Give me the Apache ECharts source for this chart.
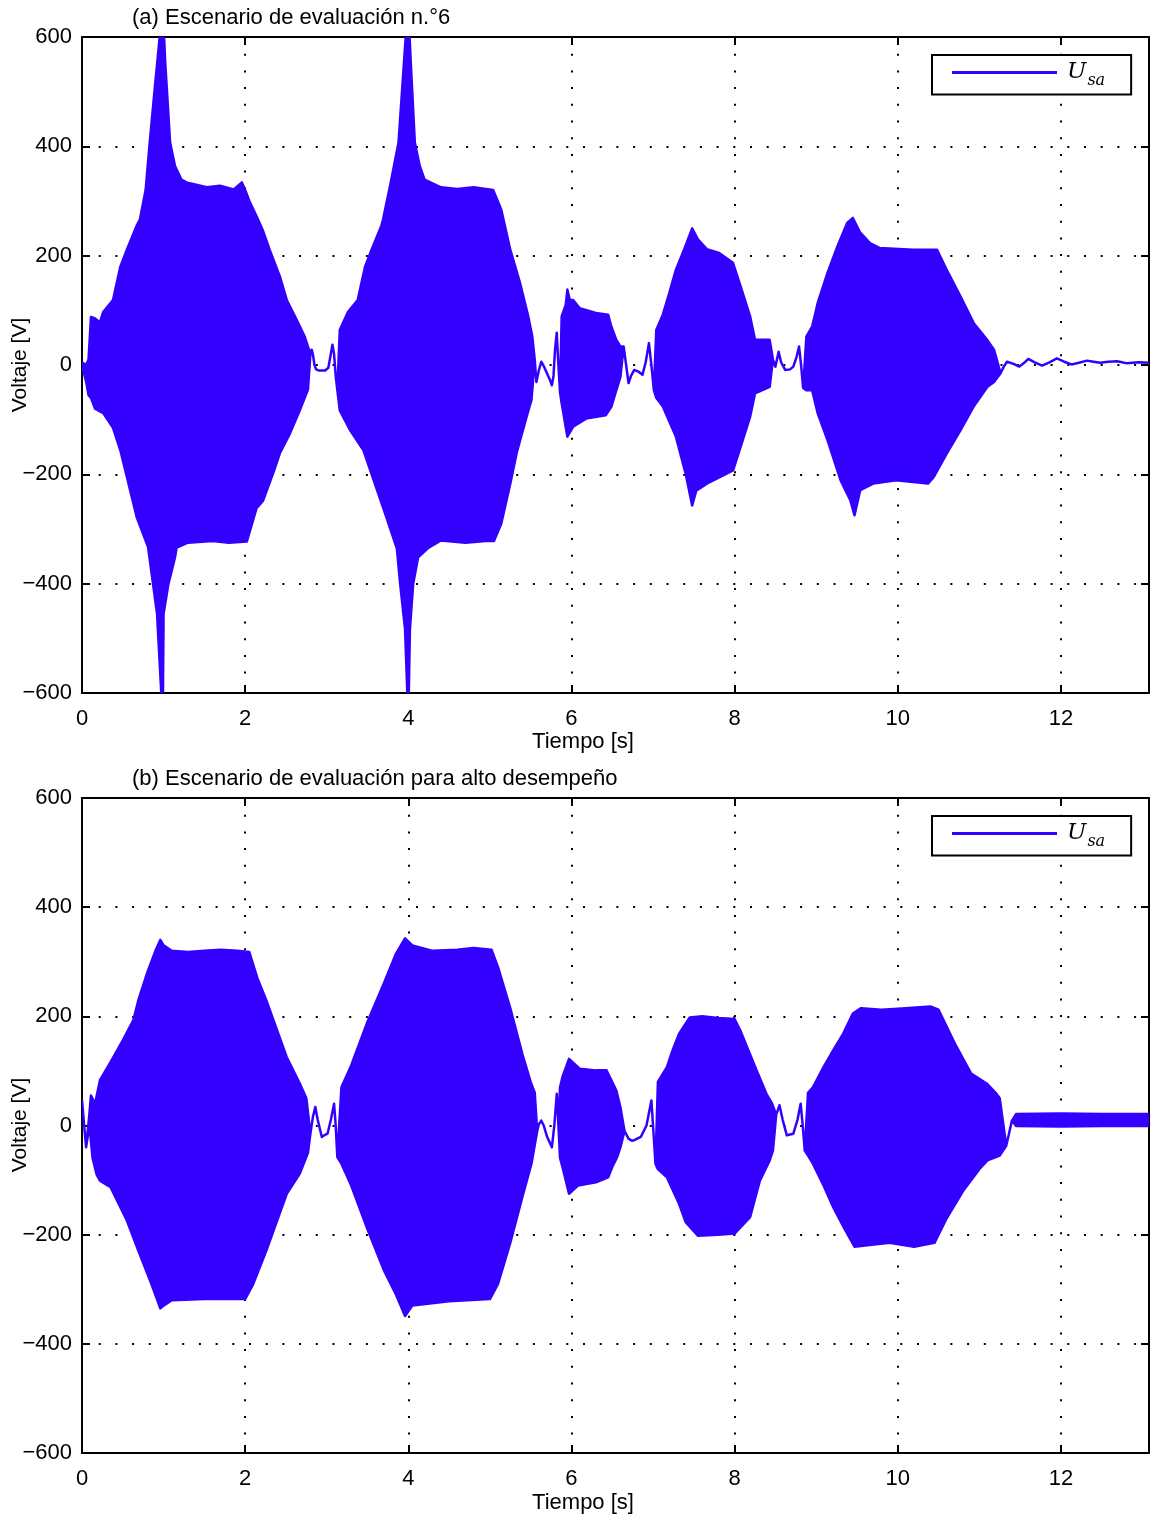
<!DOCTYPE html>
<html>
<head>
<meta charset="utf-8">
<script src="https://cdn.jsdelivr.net/npm/echarts@6/dist/echarts.min.js"></script>
<style>
  html, body { margin: 0; padding: 0; background: #fff; }
  #chart { width: 1151px; height: 1522px; }
</style>
</head>
<body>
<div id="chart"></div>
<script>
// Voltage U_sa over time for two evaluation scenarios.
// The fast oscillation is drawn as its envelope: an upper edge and a lower edge
// ([time s, voltage V] pairs). Where the signal is a single slow wiggle both edges
// follow the same trace, so the band collapses into a line.

const xTicks = [0, 2, 4, 6, 8, 10, 12];
const yTicks = [-600, -400, -200, 0, 200, 400, 600];
const timeMax = 13.08;

// (a) Scenario n.°6
const upperA = [
  [0.00, 5], [0.05, 0], [0.08, 10], [0.11, 88], [0.16, 85], [0.22, 78], [0.26, 97],
  [0.38, 119], [0.47, 180], [0.55, 211], [0.67, 255], [0.71, 266], [0.78, 320],
  [0.83, 407], [0.895, 511], [0.95, 596], [0.977, 650], [1.00, 620], [1.02, 554],
  [1.08, 407], [1.14, 364], [1.22, 339], [1.28, 334], [1.53, 325], [1.69, 328],
  [1.86, 321], [1.96, 334], [2.00, 320], [2.06, 297], [2.14, 272], [2.22, 245],
  [2.30, 211], [2.43, 160], [2.51, 119], [2.63, 83], [2.73, 52],
  [2.80, 20], [2.815, 28], [2.83, 20], [2.85, 0], [2.87, -8], [2.90, -10], [2.98, -10],
  [3.02, -5], [3.05, 20], [3.07, 37], [3.09, 20], [3.11, -20], [3.13, -46],
  [3.16, 64], [3.26, 97], [3.38, 119], [3.47, 180], [3.55, 211], [3.67, 255],
  [3.69, 266], [3.78, 330], [3.88, 407], [3.95, 560], [3.99, 650], [4.01, 620],
  [4.03, 554], [4.08, 407], [4.14, 364], [4.20, 339], [4.40, 325], [4.60, 322],
  [4.80, 325], [4.95, 322], [5.04, 320], [5.14, 284], [5.25, 211], [5.37, 150],
  [5.47, 89], [5.52, 52],
  [5.55, 10], [5.57, -31], [5.60, -10], [5.63, 6], [5.66, -2], [5.69, -12], [5.73, -25],
  [5.76, -37], [5.78, -20], [5.80, 30], [5.82, 59], [5.84, 0], [5.86, -50],
  [5.88, 89], [5.93, 110], [5.95, 138], [5.98, 119], [6.02, 119], [6.10, 104],
  [6.30, 95], [6.45, 92], [6.49, 70], [6.55, 46], [6.60, 34],
  [6.64, 34], [6.67, 0], [6.70, -33], [6.73, -20], [6.77, -9], [6.82, -12], [6.87, -18],
  [6.91, 5], [6.95, 40], [6.98, 0], [7.01, -46],
  [7.04, 64], [7.12, 92], [7.20, 132], [7.28, 174], [7.38, 211], [7.48, 250],
  [7.55, 230], [7.66, 212], [7.81, 205], [7.98, 187], [8.06, 150], [8.19, 89],
  [8.25, 46], [8.43, 46],
  [8.47, 10], [8.50, -3], [8.54, 24], [8.57, 5], [8.62, -9], [8.68, -8], [8.72, -3],
  [8.76, 15], [8.79, 34], [8.815, 0], [8.84, -42],
  [8.88, 52], [8.95, 70], [9.02, 114], [9.14, 169], [9.26, 217], [9.38, 260],
  [9.45, 269], [9.54, 242], [9.66, 223], [9.78, 214], [10.19, 211], [10.48, 211],
  [10.60, 174], [10.77, 125], [10.93, 77], [11.10, 45], [11.18, 28],
  [11.26, -15], [11.30, -3], [11.34, 6], [11.42, 2], [11.49, -3], [11.55, 4], [11.60, 11],
  [11.68, 5], [11.77, -1], [11.86, 5], [11.95, 12], [12.04, 6], [12.13, 1], [12.22, 4],
  [12.32, 8], [12.40, 6], [12.48, 4], [12.58, 6], [12.69, 7], [12.75, 5], [12.81, 3],
  [12.95, 5], [13.08, 4]
];
const lowerA = [
  [0.00, 0], [0.05, -30], [0.08, -55], [0.11, -60], [0.16, -80], [0.22, -85], [0.26, -88],
  [0.38, -115], [0.47, -156], [0.67, -278], [0.81, -333], [0.92, -455], [0.99, -650],
  [1.00, -455], [1.06, -400], [1.14, -352], [1.16, -334], [1.30, -325], [1.60, -322],
  [1.80, -325], [2.02, -323], [2.14, -262], [2.22, -248], [2.35, -195], [2.43, -160],
  [2.55, -125], [2.67, -83], [2.77, -45],
  [2.80, 20], [2.815, 28], [2.83, 20], [2.85, 0], [2.87, -8], [2.90, -10], [2.98, -10],
  [3.02, -5], [3.05, 20], [3.07, 37], [3.09, 20], [3.11, -20], [3.13, -46],
  [3.16, -83], [3.29, -120], [3.45, -156], [3.73, -278], [3.86, -336], [3.90, -400],
  [3.96, -483], [4.00, -650], [4.02, -483], [4.06, -400], [4.12, -352], [4.25, -334],
  [4.40, -321], [4.70, -325], [4.95, -322], [5.05, -322], [5.14, -290], [5.25, -217],
  [5.33, -160], [5.37, -138], [5.45, -95], [5.51, -64],
  [5.55, 10], [5.57, -31], [5.60, -10], [5.63, 6], [5.66, -2], [5.69, -12], [5.73, -25],
  [5.76, -37], [5.78, -20], [5.80, 30], [5.82, 59], [5.84, 0], [5.86, -50],
  [5.88, -70], [5.95, -131], [6.02, -113], [6.18, -98], [6.42, -92], [6.49, -76],
  [6.55, -46], [6.60, -22],
  [6.64, 34], [6.67, 0], [6.70, -33], [6.73, -20], [6.77, -9], [6.82, -12], [6.87, -18],
  [6.91, 5], [6.95, 40], [6.98, 0], [7.01, -46],
  [7.04, -60], [7.12, -76], [7.28, -131], [7.40, -199], [7.48, -257], [7.53, -230],
  [7.66, -217], [7.98, -193], [8.06, -156], [8.19, -95], [8.25, -52], [8.43, -40],
  [8.47, 10], [8.50, -3], [8.54, 24], [8.57, 5], [8.62, -9], [8.68, -8], [8.72, -3],
  [8.76, 15], [8.79, 34], [8.815, 0], [8.84, -42],
  [8.88, -46], [8.95, -46], [9.02, -89], [9.14, -138], [9.30, -211], [9.42, -248],
  [9.47, -275], [9.54, -229], [9.70, -217], [9.98, -211], [10.37, -217], [10.44, -205],
  [10.60, -162], [10.77, -119], [10.93, -76], [11.10, -40], [11.18, -31],
  [11.26, -15], [11.30, -3], [11.34, 6], [11.42, 2], [11.49, -3], [11.55, 4], [11.60, 11],
  [11.68, 5], [11.77, -1], [11.86, 5], [11.95, 12], [12.04, 6], [12.13, 1], [12.22, 4],
  [12.32, 8], [12.40, 6], [12.48, 4], [12.58, 6], [12.69, 7], [12.75, 5], [12.81, 3],
  [12.95, 5], [13.08, 4]
];

// (b) High-performance scenario
const upperB = [
  [0.00, 46], [0.05, -40], [0.09, 20], [0.11, 55], [0.16, 40], [0.22, 83],
  [0.35, 116], [0.50, 156], [0.63, 193], [0.69, 229], [0.80, 280], [0.90, 320],
  [0.96, 340], [1.00, 330], [1.10, 320], [1.30, 318], [1.50, 320], [1.70, 322],
  [1.90, 320], [2.05, 318], [2.15, 270], [2.26, 229], [2.51, 125], [2.67, 77],
  [2.75, 50],
  [2.80, -15], [2.83, 15], [2.86, 34], [2.89, 10], [2.94, -21], [2.98, -17], [3.01, -15],
  [3.05, 10], [3.09, 40], [3.11, 0], [3.13, -58],
  [3.18, 70], [3.30, 110], [3.50, 190], [3.70, 260], [3.85, 315], [3.96, 343],
  [4.05, 330], [4.30, 320], [4.60, 322], [4.80, 325], [5.02, 322], [5.10, 290],
  [5.25, 215], [5.40, 130], [5.50, 80], [5.55, 60],
  [5.58, -10], [5.60, 2], [5.63, 9], [5.66, 0], [5.70, -20], [5.76, -40], [5.79, 0],
  [5.82, 58], [5.84, 0],
  [5.86, 70], [5.89, 89], [5.97, 122], [6.10, 104], [6.30, 101], [6.43, 101],
  [6.49, 83], [6.55, 64], [6.60, 34],
  [6.65, -10], [6.70, -24], [6.74, -28], [6.77, -27], [6.85, -21], [6.92, 0],
  [6.98, 46], [7.00, 0], [7.03, -70],
  [7.06, 80], [7.17, 107], [7.24, 138], [7.32, 168], [7.45, 198], [7.60, 200],
  [7.80, 197], [8.00, 195], [8.07, 174], [8.27, 101], [8.39, 58], [8.46, 40],
  [8.51, 20], [8.55, 37], [8.59, 10], [8.64, -18], [8.72, -15], [8.77, 10],
  [8.81, 40], [8.835, 0], [8.86, -46],
  [8.90, 60], [8.96, 70], [9.09, 107], [9.21, 138], [9.33, 168], [9.45, 205],
  [9.55, 215], [9.80, 212], [10.10, 215], [10.40, 218], [10.50, 212], [10.70, 150],
  [10.90, 95], [11.09, 77], [11.20, 60], [11.25, 50],
  [11.33, -37], [11.40, 9], [11.45, 21], [12.00, 22], [12.50, 21], [13.08, 21]
];
const lowerB = [
  [0.00, 46], [0.05, -40], [0.09, 0], [0.13, -60], [0.18, -90], [0.22, -101],
  [0.35, -113], [0.55, -174], [0.69, -229], [0.85, -290], [0.96, -335], [1.00, -330],
  [1.10, -320], [1.50, -318], [2.00, -318], [2.10, -290], [2.26, -229], [2.51, -125],
  [2.67, -88], [2.77, -50],
  [2.80, -15], [2.83, 15], [2.86, 34], [2.89, 10], [2.94, -21], [2.98, -17], [3.01, -15],
  [3.05, 10], [3.09, 40], [3.11, 0], [3.13, -58],
  [3.18, -70], [3.30, -110], [3.50, -190], [3.70, -265], [3.85, -310], [3.96, -349],
  [4.05, -330], [4.50, -322], [5.00, -318], [5.10, -290], [5.25, -215], [5.40, -130],
  [5.51, -70],
  [5.58, -10], [5.60, 2], [5.63, 9], [5.66, 0], [5.70, -20], [5.76, -40], [5.79, 0],
  [5.82, 58], [5.84, 0],
  [5.86, -60], [5.89, -76], [5.97, -125], [6.08, -110], [6.30, -104], [6.45, -95],
  [6.50, -76], [6.56, -58], [6.60, -40],
  [6.65, -10], [6.70, -24], [6.74, -28], [6.77, -27], [6.85, -21], [6.92, 0],
  [6.98, 46], [7.00, 0], [7.03, -70],
  [7.06, -80], [7.17, -95], [7.32, -144], [7.40, -177], [7.55, -202], [7.80, -200],
  [8.00, -198], [8.19, -168], [8.31, -101], [8.43, -64], [8.47, -46],
  [8.51, 20], [8.55, 37], [8.59, 10], [8.64, -18], [8.72, -15], [8.77, 10],
  [8.81, 40], [8.835, 0], [8.86, -46],
  [8.90, -55], [8.96, -70], [9.09, -110], [9.21, -150], [9.35, -190], [9.47, -222],
  [9.60, -220], [9.90, -215], [10.20, -222], [10.45, -215], [10.60, -170],
  [10.80, -120], [11.00, -80], [11.10, -64], [11.25, -55],
  [11.33, -37], [11.40, 9], [11.45, -1], [12.00, -2], [12.50, -1], [13.08, -1]
];

const BLUE = '#3300ff';
const FONT = 'Liberation Sans, Arial, sans-serif';
const SERIES_NAME = 'U_sa';

const chart = echarts.init(document.getElementById('chart'), null, { renderer: 'canvas' });

const grids = [
  { left: 82, top: 37, width: 1067, height: 656 },
  { left: 82, top: 798, width: 1067, height: 655 }
];

function bottomAxis(gi) {
  return {
    type: 'value', gridIndex: gi, position: 'bottom', min: 0, max: timeMax, interval: 2,
    axisLine: { show: true, onZero: false, lineStyle: { color: '#000', width: 2 } },
    axisTick: { show: true, inside: true, length: 8, lineStyle: { color: '#000', width: 2 } },
    axisLabel: {
      show: true, margin: 15, color: '#000', fontFamily: FONT, fontSize: 22,
      showMaxLabel: false,
      formatter: v => (xTicks.indexOf(v) >= 0 ? String(v) : '')
    },
    splitLine: { show: true, lineStyle: { color: '#000', width: 2, type: [2, 14.7] } }
  };
}
function topAxis(gi) {
  return {
    type: 'value', gridIndex: gi, position: 'top', min: 0, max: timeMax, interval: 2,
    axisLine: { show: true, onZero: false, lineStyle: { color: '#000', width: 2 } },
    axisTick: { show: true, inside: true, length: 8, lineStyle: { color: '#000', width: 2 } },
    axisLabel: { show: false }, splitLine: { show: false }
  };
}
function leftAxis(gi) {
  return {
    type: 'value', gridIndex: gi, position: 'left', min: yTicks[0], max: yTicks[yTicks.length - 1], interval: 200,
    axisLine: { show: true, onZero: false, lineStyle: { color: '#000', width: 2 } },
    axisTick: { show: true, inside: true, length: 8, lineStyle: { color: '#000', width: 2 } },
    axisLabel: {
      show: true, margin: 10, color: '#000', fontFamily: FONT, fontSize: 22,
      formatter: v => (v < 0 ? '\u2212' + Math.abs(v) : String(v))
    },
    splitLine: { show: true, lineStyle: { color: '#000', width: 2, type: [2, 14.7] } }
  };
}
function rightAxis(gi) {
  return {
    type: 'value', gridIndex: gi, position: 'right', min: yTicks[0], max: yTicks[yTicks.length - 1], interval: 200,
    axisLine: { show: true, onZero: false, lineStyle: { color: '#000', width: 2 } },
    axisTick: { show: true, inside: true, length: 8, lineStyle: { color: '#000', width: 2 } },
    axisLabel: { show: false }, splitLine: { show: false }
  };
}

// Envelope band drawn as one polygon: upper edge forward, lower edge back.
function bandSeries(upper, lower, axisIndex) {
  return {
    type: 'custom', name: SERIES_NAME,
    xAxisIndex: axisIndex * 2, yAxisIndex: axisIndex * 2,
    clip: true, silent: true, animation: false,
    itemStyle: { color: BLUE },
    data: [[0, 0]],
    renderItem: function (params, api) {
      const pts = upper.map(p => api.coord(p))
        .concat(lower.slice().reverse().map(p => api.coord(p)));
      return {
        type: 'polygon',
        shape: { points: pts },
        style: { fill: BLUE, stroke: BLUE, lineWidth: 2.5, lineJoin: 'round' }
      };
    }
  };
}

function legendFor(top) {
  return {
    left: 932, top: top, orient: 'horizontal',
    backgroundColor: '#fff', borderColor: '#000', borderWidth: 2, borderRadius: 0,
    padding: [6, 26, 6, 20],
    itemWidth: 105, itemHeight: 3, itemGap: 0, icon: 'rect',
    selectedMode: false,
    data: [{ name: SERIES_NAME, icon: 'rect', itemStyle: { color: BLUE } }],
    formatter: () => '{u|U}{s|sa}',
    textStyle: {
      padding: [0, 0, 0, 5],
      rich: {
        u: { fontFamily: 'DejaVu Serif', fontStyle: 'italic', fontSize: 23, color: '#000', lineHeight: 26, verticalAlign: 'middle' },
        s: { fontFamily: 'DejaVu Serif', fontStyle: 'italic', fontSize: 16, color: '#000', lineHeight: 26, verticalAlign: 'bottom', padding: [0, 0, -3, 1] }
      }
    }
  };
}

function label(text, x, y, extra) {
  return Object.assign({
    type: 'text', x: x, y: y, silent: true,
    style: { text: text, font: '22px ' + FONT, fill: '#000', align: 'left', verticalAlign: 'middle' }
  }, extra || {});
}

const option = {
  animation: false,
  backgroundColor: '#fff',
  grid: grids,
  xAxis: [bottomAxis(0), topAxis(0), bottomAxis(1), topAxis(1)],
  yAxis: [leftAxis(0), rightAxis(0), leftAxis(1), rightAxis(1)],
  legend: [legendFor(55), legendFor(816)],
  series: [bandSeries(upperA, lowerA, 0), bandSeries(upperB, lowerB, 1)],
  graphic: [
    label('(a) Escenario de evaluación n.°6', 132, 18),
    label('(b) Escenario de evaluación para alto desempeño', 132, 779),
    label('Tiempo [s]', 583, 742, { style: { text: 'Tiempo [s]', font: '22px ' + FONT, fill: '#000', align: 'center', verticalAlign: 'middle' } }),
    label('Tiempo [s]', 583, 1503, { style: { text: 'Tiempo [s]', font: '22px ' + FONT, fill: '#000', align: 'center', verticalAlign: 'middle' } }),
    label('Voltaje [V]', 20, 365, { rotation: Math.PI / 2, style: { text: 'Voltaje [V]', font: '21px ' + FONT, fill: '#000', align: 'center', verticalAlign: 'middle' } }),
    label('Voltaje [V]', 20, 1125, { rotation: Math.PI / 2, style: { text: 'Voltaje [V]', font: '21px ' + FONT, fill: '#000', align: 'center', verticalAlign: 'middle' } })
  ]
};

chart.setOption(option);
</script>
</body>
</html>
